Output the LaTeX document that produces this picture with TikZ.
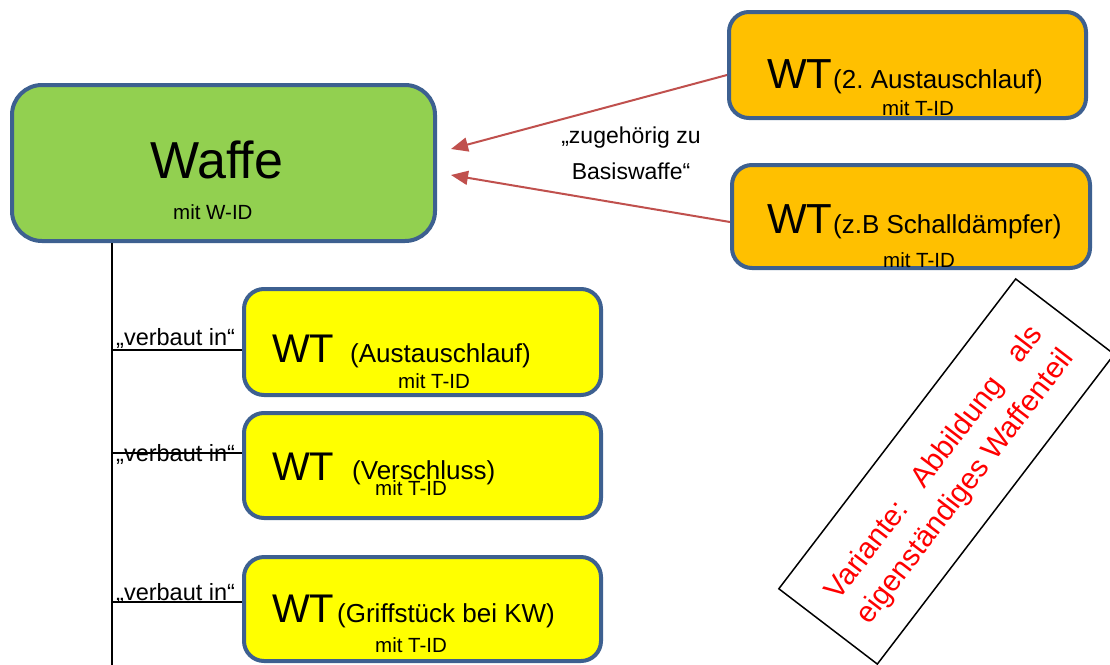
\documentclass[tikz,border=0pt]{standalone}
\usepackage{fontspec}
\setmainfont{Liberation Sans}
\usepackage{calc}
\usetikzlibrary{arrows.meta,calc}
\frenchspacing
\definecolor{bordc}{HTML}{3D6090}
\definecolor{wgreen}{HTML}{92D050}
\definecolor{worange}{HTML}{FFC000}
\definecolor{wyellow}{HTML}{FFFF00}
\definecolor{arrred}{HTML}{C0504D}
\definecolor{txtred}{HTML}{FF0000}
\tikzset{
  box/.style={draw=bordc, line width=4pt, rounded corners=20pt, inner sep=0pt},
  txt/.style={inner sep=0pt, anchor=base west},
  fwaffe/.style={txt, font=\fontsize{52}{60}\selectfont},
  fwt/.style={txt, font=\fontsize{42}{48}\selectfont},
  fywt/.style={txt, font=\fontsize{40}{46}\selectfont},
  fpar/.style={txt, font=\fontsize{26}{30}\selectfont},
  fid/.style={txt, font=\fontsize{20.5}{24}\selectfont},
  frel/.style={txt, font=\fontsize{23.5}{28}\selectfont},
  flab/.style={inner sep=0pt, font=\fontsize{23}{36}\selectfont, align=center},
  trunk/.style={draw=black, line width=2pt},
  redarrow/.style={draw=arrred, line width=2pt, -{Triangle[length=17pt,width=14pt]}},
}
\begin{document}
\begin{tikzpicture}[x=1pt,y=-1pt]
\path[use as bounding box, clip] (0,0) rectangle (1110,664);
\fill[white] (0,0) rectangle (1110,664);

% boxes
\node[box, fill=wgreen, rounded corners=30pt, minimum width=423pt, minimum height=156pt] (waffe) at (223.5,163) {};
\node[box, fill=worange, minimum width=357pt, minimum height=106pt] (o1) at (907.5,65) {};
\node[box, fill=worange, minimum width=358pt, minimum height=103pt] (o2) at (911,216.5) {};
\node[box, fill=wyellow, minimum width=357pt, minimum height=106pt] (y1) at (422.5,342) {};
\node[box, fill=wyellow, minimum width=357pt, minimum height=105pt] (y2) at (422.5,465.5) {};
\node[box, fill=wyellow, minimum width=357pt, minimum height=104pt] (y3) at (422.5,609) {};

% texts in boxes
\node[fwaffe] (waffeT) at (150,178) {Waffe};
\node[fid] (waffeID) at (173,219) {mit W-ID};

\node[fwt] (o1wt) at (767,88) {WT};
\node[fpar] (o1p) at (833,88) {(2. Austauschlauf)};
\node[fid] (o1id) at (882,115) {mit T-ID};

\node[fwt] (o2wt) at (767,233) {WT};
\node[fpar] (o2p) at (833,233) {(z.B Schalldämpfer)};
\node[fid] (o2id) at (883,267) {mit T-ID};

\node[fywt] (y1wt) at (272,362) {WT};
\node[fpar] (y1p) at (350,362) {(Austauschlauf)};
\node[fid] (y1id) at (398,388) {mit T-ID};

\node[fywt] (y2wt) at (272,480) {WT};
\node[fpar] (y2p) at (352,479) {(Verschluss)};
\node[fid] (y2id) at (375,495) {mit T-ID};

\node[fywt] (y3wt) at (272,622) {WT};
\node[fpar] (y3p) at (337,622) {(Griffstück bei KW)};
\node[fid] (y3id) at (375,652) {mit T-ID};

% trunk and branches
\coordinate (tbot) at (112,670);
\coordinate (t1) at (112,350);
\coordinate (t2) at (112,453);
\coordinate (t3) at (112,602);
\draw[trunk] (waffe.south -| tbot) -- (tbot);
\draw[trunk] (t1) -- (t1 -| y1.west);
\draw[trunk] (t2) -- (t2 -| y2.west);
\draw[trunk] (t3) -- (t3 -| y3.west);
\node[frel] (r1) at (116,345) {„verbaut in“};
\node[frel] (r2) at (116,461) {„verbaut in“};
\node[frel] (r3) at (116,600) {„verbaut in“};

% red arrows
\coordinate (tip1) at (451,149);
\coordinate (tip2) at (451,175);
\draw[redarrow] ($(o1.west)+(0,10)$) -- (tip1);
\draw[redarrow] ($(o2.west)+(0,5.5)$) -- (tip2);
\node[flab] (zug) at (631,153) {„zugehörig zu\\Basiswaffe“};

% rotated variant box
\coordinate (vc) at (946.5,471.5);
\node[draw=black, line width=1.5pt, rotate=52.6, minimum width=390pt, minimum height=124pt,
      inner sep=0pt] (var) at (vc) {};
\node[rotate=52.6, inner sep=0pt, text=txtred, font=\fontsize{29.5}{39}\selectfont, align=center]
  (vartext) at ($(vc)+(4,4)$)
  {\makebox[\widthof{eigenständiges Waffenteil}]{Variante:\hfill Abbildung\hfill als}\\eigenständiges Waffenteil};
\end{tikzpicture}
\end{document}
